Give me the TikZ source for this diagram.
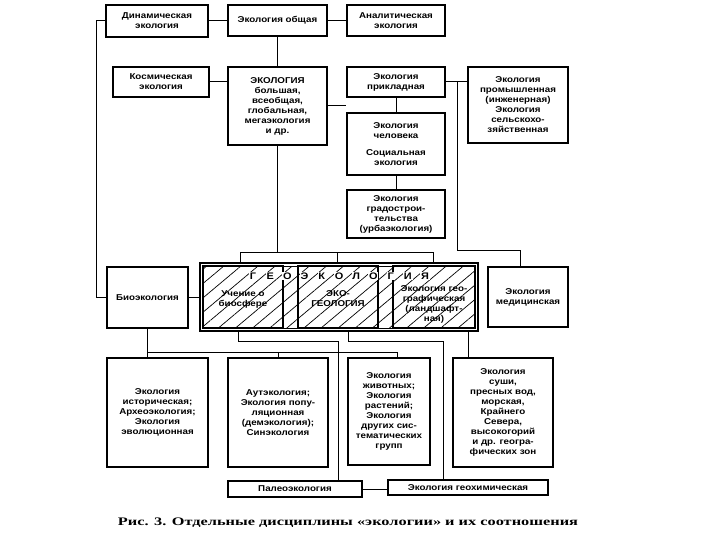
\documentclass[tikz,border=0pt]{standalone}
\usepackage{fontspec}
\setmainfont{Liberation Sans}[FakeStretch=1.15]
\newfontfamily\capfont{Liberation Serif}[FakeStretch=1.42]
\usetikzlibrary{patterns.meta}
\begin{document}
\begin{tikzpicture}[x=1pt,y=-1pt,
  box/.style={draw, line width=1.1pt, align=center, inner sep=0pt,
    font=\bfseries\fontsize{8.5}{10}\selectfont},
  conn/.style={line width=1pt},
  geol/.style={font=\bfseries\fontsize{9.5}{10}\selectfont, inner sep=0.8pt, fill=white}]
\useasboundingbox[fill=white] (0,0) rectangle (720,540);

% top rows
\node[box, minimum width=102pt, minimum height=32pt] (dyn) at (157,21) {Динамическая\\экология};
\node[box, minimum width=99pt, minimum height=31pt] (gen) at (277.5,20.5) {Экология общая};
\node[box, minimum width=98pt, minimum height=31pt] (anal) at (396,20.5) {Аналитическая\\экология};
\node[box, minimum width=96pt, minimum height=30pt] (kosm) at (161,82) {Космическая\\экология};
\node[box, minimum width=99pt, minimum height=78pt] (big) at (277.5,106) {ЭКОЛОГИЯ\\большая,\\всеобщая,\\глобальная,\\мегаэкология\\и др.};
\node[box, minimum width=98pt, minimum height=30pt] (prik) at (396,82) {Экология\\прикладная};
\node[box, minimum width=100pt, minimum height=76pt] (prom) at (518,105) {Экология\\промышленная\\(инженерная)\\Экология\\сельскохо-\\зяйственная};
\node[box, minimum width=98pt, minimum height=62pt] (chel) at (396,144) {Экология\\человека\\[7pt]Социальная\\экология};
\node[box, minimum width=98pt, minimum height=48pt] (grad) at (396,214) {Экология\\градострои-\\тельства\\(урбаэкология)};

% middle row
\node[box, minimum width=81pt, minimum height=61pt] (bio) at (147.5,297.5) {Биоэкология};
\node[box, minimum width=80pt, minimum height=60pt] (med) at (528,297) {Экология\\медицинская};

% geoecology block
\fill[pattern={Lines[angle=40,distance=11pt,line width=0.7pt]}] (203,266) rectangle (475,328);
\node[draw, line width=1.1pt, minimum width=278pt, minimum height=68pt, inner sep=0pt] (geo) at (339,297) {};
\node[draw, line width=1pt, minimum width=272pt, minimum height=62pt, inner sep=0pt] (geoin) at (339,297) {};
\node[box, minimum width=80pt, minimum height=62pt] (uch) at (243,297) {};
\node[box, minimum width=80pt, minimum height=62pt] (eko) at (338,297) {};
\node[box, minimum width=82pt, minimum height=62pt] (geog) at (434,297) {};
\foreach \l [count=\i from 0] in {Г,Е,О,Э,К,О,Л,О,Г,И,Я}
  \node[geol] (t\i) at (253+17.2*\i,276) {\l};
\node[font=\bfseries\fontsize{8.5}{10}\selectfont, align=center, inner sep=0.5pt] (uchT) at (243,299) {Учение о\\биосфере};
\node[font=\bfseries\fontsize{8.5}{10}\selectfont, align=center, inner sep=0.5pt] (ekoT) at (338,299) {ЭКО-\\ГЕОЛОГИЯ};
\node[font=\bfseries\fontsize{8.5}{10}\selectfont, align=center, inner sep=0.5pt] (geogT) at (434,304) {Экология гео-\\графическая\\(ландшафт-\\ная)};

% bottom row
\node[box, minimum width=101pt, minimum height=109pt] (hist) at (157.5,412.5) {Экология\\историческая;\\Археоэкология;\\Экология\\эволюционная};
\node[box, minimum width=100pt, minimum height=109pt] (aut) at (278,412.5) {Аутэкология;\\Экология попу-\\ляционная\\(демэкология);\\Синэкология};
\node[box, minimum width=82pt, minimum height=107pt] (zhiv) at (389,411.5) {Экология\\животных;\\Экология\\растений;\\Экология\\других сис-\\тематических\\групп};
\node[box, minimum width=100pt, minimum height=109pt] (sushi) at (503,412.5) {Экология\\суши,\\пресных вод,\\морская,\\Крайнего\\Севера,\\высокогорий\\и др. геогра-\\фических зон};
\node[box, minimum width=134pt, minimum height=16pt] (paleo) at (295,489) {Палеоэкология};
\node[box, minimum width=160pt, minimum height=15pt] (geoch) at (468,487.5) {Экология геохимическая};

% connectors top
\draw[conn] (dyn.east) -- (dyn.east -| gen.west);
\draw[conn] (gen.east) -- (gen.east -| anal.west);
\draw[conn] (gen.south) -- (big.north);
\draw[conn] (kosm.east) -- (kosm.east -| big.west);
\draw[conn] (big.east) -- (big.east -| prik.west);
\draw[conn] (prik.east) -- (prik.east -| prom.west);
\draw[conn] (prik.south) -- (chel.north);
\draw[conn] (chel.south) -- (grad.north);
\draw[conn] (dyn.west) -- ++(-9,0) |- (bio.west);
% to geoecology
\coordinate (hl) at (240,252);
\coordinate (hr) at (433,252);
\draw[conn] (big.south) -- (big.south |- hl);
\draw[conn] (hl) -- (hr);
\draw[conn] (hl) -- (hl |- geo.north);
\draw[conn] (337,252) -- (337,263);
\draw[conn] (hr) -- (hr |- geo.north);
\coordinate (rj) at (457,82);
\coordinate (rk) at (457,250);
\coordinate (rm) at (520,250);
\draw[conn] (rj) -- (rk) -- (rm) -- (rm |- med.north);
\draw[conn] (bio.east) -- (bio.east -| geo.west);
% below geoecology
\coordinate (b1) at (238,341);
\coordinate (b2) at (338,341);
\draw[conn] (b1 |- geo.south) -- (b1) -- (b2) -- (b2 |- paleo.north);
\coordinate (c1) at (348,341);
\coordinate (c2) at (443,341);
\draw[conn] (c1 |- geo.south) -- (c1) -- (c2) -- (c2 |- geoch.north);
\coordinate (d1) at (468,341);
\draw[conn] (d1 |- geo.south) -- (d1 |- sushi.north);
\coordinate (e1) at (147,352);
\coordinate (e2) at (397,352);
\draw[conn] (bio.south -| e1) -- (e1 |- hist.north);
\draw[conn] (e1) -- (e2) -- (e2 |- zhiv.north);
\draw[conn] (aut.north |- e1) -- (aut.north);
\draw[conn] (paleo.east) -- (paleo.east -| geoch.west);

% caption
\node[font=\capfont\bfseries\fontsize{11.5}{13}\selectfont, inner sep=0pt] (cap) at (348,523) {Рис. 3. Отдельные дисциплины «экологии» и их соотношения};
\end{tikzpicture}
\end{document}
